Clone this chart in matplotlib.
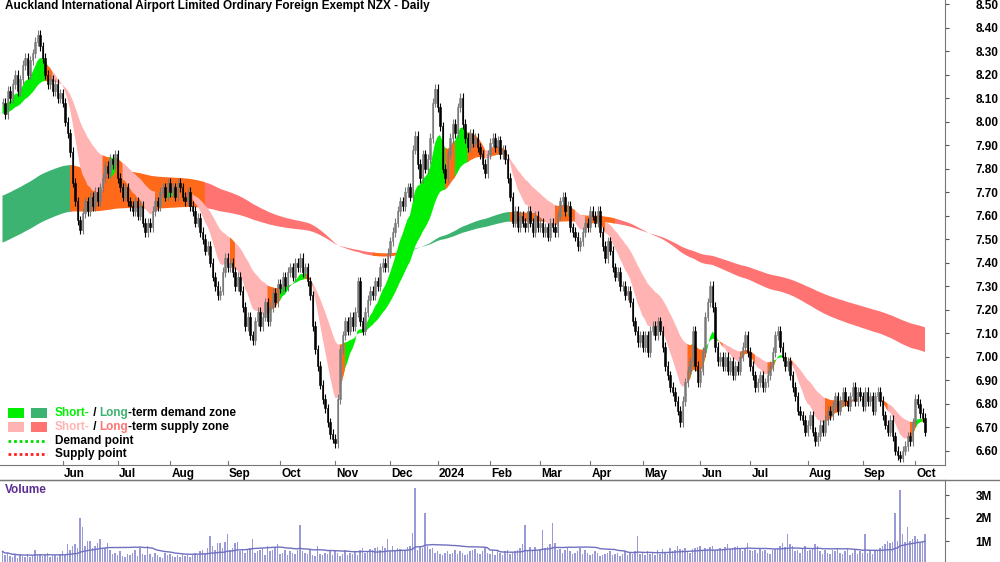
import numpy as np
import pandas as pd
import matplotlib
matplotlib.use("Agg")
import matplotlib.pyplot as plt
from matplotlib.patches import Rectangle

plt.rcParams['font.family'] = ['Liberation Sans', 'DejaVu Sans']

title = "Auckland International Airport Limited Ordinary Foreign Exempt NZX - Daily"

# daily closes (groups of 4 bars)
closes = [
    8.08, 8.03, 8.13, 8.10, 8.16, 8.20, 8.13, 8.18, 8.24, 8.27, 8.20, 8.26,
    8.29, 8.34, 8.37, 8.32, 8.27, 8.20, 8.16, 8.18, 8.13, 8.16, 8.10, 8.12,
    8.08, 8.00, 7.95, 7.87, 7.74, 7.66, 7.58, 7.54, 7.61, 7.66, 7.62, 7.68,
    7.64, 7.70, 7.66, 7.72, 7.76, 7.81, 7.78, 7.84, 7.82, 7.86, 7.76, 7.72,
    7.68, 7.72, 7.66, 7.64, 7.62, 7.66, 7.60, 7.64, 7.57, 7.53, 7.57, 7.55,
    7.62, 7.66, 7.64, 7.70, 7.72, 7.68, 7.74, 7.70, 7.72, 7.68, 7.74, 7.72,
    7.68, 7.66, 7.70, 7.64, 7.62, 7.57, 7.59, 7.53, 7.50, 7.45, 7.47, 7.40,
    7.34, 7.30, 7.26, 7.28, 7.36, 7.42, 7.38, 7.40, 7.36, 7.30, 7.34, 7.28,
    7.21, 7.13, 7.17, 7.09, 7.07, 7.15, 7.19, 7.13, 7.17, 7.23, 7.15, 7.21,
    7.27, 7.23, 7.31, 7.29, 7.34, 7.30, 7.36, 7.38, 7.34, 7.40, 7.38, 7.42,
    7.36, 7.38, 7.32, 7.26, 7.13, 7.03, 6.96, 6.88, 6.82, 6.78, 6.72, 6.67,
    6.65, 6.63, 6.82, 7.03, 7.09, 7.15, 7.11, 7.17, 7.13, 7.19, 7.32, 7.15,
    7.11, 7.19, 7.24, 7.28, 7.26, 7.32, 7.30, 7.38, 7.40, 7.38, 7.44, 7.49,
    7.53, 7.57, 7.62, 7.66, 7.64, 7.70, 7.72, 7.68, 7.88, 7.94, 7.82, 7.76,
    7.86, 7.80, 7.84, 7.93, 8.08, 8.14, 8.06, 7.98, 7.80, 7.76, 7.86, 7.93,
    7.99, 7.95, 8.06, 8.10, 7.99, 7.93, 7.89, 7.95, 7.91, 7.93, 7.89, 7.86,
    7.82, 7.78, 7.86, 7.91, 7.93, 7.89, 7.92, 7.86, 7.88, 7.84, 7.76, 7.68,
    7.57, 7.62, 7.55, 7.60, 7.57, 7.55, 7.62, 7.57, 7.53, 7.60, 7.55, 7.57,
    7.53, 7.55, 7.51, 7.57, 7.55, 7.53, 7.60, 7.66, 7.68, 7.62, 7.64, 7.55,
    7.53, 7.51, 7.47, 7.49, 7.53, 7.57, 7.55, 7.62, 7.60, 7.57, 7.62, 7.53,
    7.47, 7.42, 7.49, 7.45, 7.38, 7.34, 7.36, 7.30, 7.30, 7.26, 7.28, 7.23,
    7.15, 7.11, 7.06, 7.09, 7.04, 7.09, 7.02, 7.11, 7.13, 7.09, 7.15, 7.11,
    7.04, 6.96, 6.92, 6.87, 6.85, 6.81, 6.77, 6.72, 6.81, 6.89, 6.94, 6.98,
    7.11, 6.96, 6.89, 6.94, 7.02, 7.17, 7.23, 7.30, 7.21, 7.04, 6.98, 7.00,
    6.96, 7.00, 6.94, 6.98, 6.92, 6.96, 6.94, 7.00, 7.04, 7.09, 7.02, 6.96,
    6.92, 6.87, 6.89, 6.92, 6.87, 6.89, 6.92, 6.96, 7.02, 7.09, 7.11, 7.04,
    7.00, 6.96, 6.98, 6.92, 6.87, 6.83, 6.77, 6.75, 6.73, 6.68, 6.71, 6.75,
    6.68, 6.64, 6.66, 6.71, 6.68, 6.73, 6.77, 6.75, 6.79, 6.83, 6.77, 6.81,
    6.85, 6.81, 6.79, 6.83, 6.87, 6.81, 6.85, 6.83, 6.79, 6.85, 6.81, 6.83,
    6.77, 6.83, 6.85, 6.81, 6.75, 6.71, 6.68, 6.73, 6.66, 6.60, 6.58, 6.57,
    6.60, 6.62, 6.66, 6.64, 6.72, 6.82, 6.80, 6.76, 6.74, 6.68,
]

# daily volume in millions
volume = [
    .55, .40, .50, .35, .30, .45, .25, .40, .35, .30,
    .45, .30, .35, .60, .40, .45, .35, .40, .50, .30,
    .35, .40, .30, .45, .55, .40, .85, .60, .80, .85,
    .70, 2.0, 1.6, .80, 1.0, 1.0, .70, .80, .90, 1.1,
    .65, .70, .90, .60, .45, .50, .40, .55, .35, .30,
    .45, .40, .50, .60, .35, .70, .45, .40, .80, .45,
    .30, .50, .40, .30, .25, .50, .40, .45, .35, .30,
    .40, .30, .45, .35, .40, .30, .45, .50, .40, .55,
    .60, .50, .70, 1.2, .80, .60, .90, .90, .70, .95,
    1.3, .60, .70, .90, .95, .55, .60, .50, .60, .70,
    1.1, .50, .55, .60, .70, .40, .80, .55, .60, .75,
    .85, .45, .50, .60, .40, .55, .50, .45, .60, 1.7,
    .55, .50, .45, .60, .40, .35, .80, .45, .40, .50,
    .45, .60, .40, .55, .50, .35, .45, .60, .40, .50,
    .45, .55, .40, .60, .70, .50, .55, .65, .60, .70,
    .75, .60, .80, .70, 1.1, .55, .80, .60, .70, .65,
    .55, .60, .75, .80, 1.35, 3.3, .60, .75, .70, 2.2,
    .80, .65, .70, .50, .55, .45, .40, .50, .55, .45,
    .50, .60, .45, .55, .50, .40, .45, .55, .60, .65,
    .50, .45, .55, .75, .50, .45, .60, .40, .55, .50,
    .40, .55, .60, .45, .50, .55, .60, .70, .85, 1.7,
    .55, .75, .60, .75, .55, .65, 1.5, .70, .75, .85,
    1.8, .90, .60, .65, .50, .60, .70, .55, .45, .50,
    .55, .70, .45, .60, .50, .40, .45, .55, .50, .35,
    .40, .45, .50, .55, .40, .45, .50, .35, .45, .55,
    .40, .50, .45, .55, 1.2, .45, .50, .40, .55, .45,
    .50, .40, .60, .45, .65, .50, .45, .70, .55, .60,
    .80, .65, .60, .70, .55, .50, .65, .70, .75, .80,
    .60, .70, .65, .75, .80, .60, .65, .70, .60, .75,
    .85, .65, .70, .75, .80, .65, .55, .70, .90, .60,
    .55, .60, .50, .65, .55, .60, .50, .45, .60, .65,
    .70, .80, .90, .75, 1.3, .85, .80, .55, .60, .50,
    .65, .80, .55, .60, .70, .85, .80, .55, .45, .60,
    .50, .45, .60, .55, .70, .50, .45, .55, .65, .40,
    .50, .60, .45, .55, .50, 1.3, .50, .60, .45, .55,
    .60, .70, .80, .85, 1.0, .90, .95, 2.2, 1.0, 3.2,
    1.3, .95, 1.6, 1.0, 1.1, 1.2, 1.1, .90, 1.0, 1.3,
]

first_day = "2023-04-28"
holidays = ["2023-12-25", "2023-12-26", "2024-01-01", "2024-01-02", "2024-02-06",
            "2024-03-29", "2024-04-01"]
# start values of the averages (the chart has history before the first bar)
short_seed = [8.08, 8.03]
long_seed = [7.68, 7.48]

price_ticks = [6.6 + 0.1 * k for k in range(20)]
vol_ticks = [1, 2, 3]
vol_tick_labels = ["1M", "2M", "3M"]

days = pd.bdate_range(first_day, periods=420)
days = days[~days.isin(pd.to_datetime(holidays))][:len(closes)]
n = len(closes)
x = np.arange(n)
c = np.array(closes)
o = np.r_[c[0], c[:-1]]
hi = np.maximum(o, c) + 0.02
lo = np.minimum(o, c) - 0.02


def ema(vals, span, seed):
    a = 2.0 / (span + 1)
    out = np.empty(len(vals))
    prev = seed
    for i, v in enumerate(vals):
        prev = prev + a * (v - prev)
        out[i] = prev
    return out


s_fast = ema(c, 10, short_seed[0])
s_slow = ema(c, 30, short_seed[1])
l_fast = ema(c, 170, long_seed[0])
l_slow = ema(c, 250, long_seed[1])

W, H = 1000, 562
fig = plt.figure(figsize=(10, 5.62), dpi=100)
top_h = 465
ax = fig.add_axes([0, 1 - top_h / H, 0.945, top_h / H])
axv = fig.add_axes([0, 0, 0.945, 82 / H])

ORANGE = "#ff6a1a"


def draw_band(a, b, up_col, dn_col, thr):
    mid = (a + b) / 2
    slope = np.r_[np.zeros(4), (mid[4:] - mid[:-4]) / 4]
    slope[:4] = slope[4]
    state = np.where(slope > thr, 1, np.where(slope < -thr, -1, 0))
    cols = {1: up_col, -1: dn_col, 0: ORANGE}
    for st in (1, -1, 0):
        m = state == st
        m2 = m | np.r_[m[1:], False] | np.r_[False, m[:-1]]
        ax.fill_between(x, a, b, where=m2, color=cols[st], lw=0, interpolate=False)


draw_band(l_fast, l_slow, "#3cb371", "#ff7373", 0.0016)
draw_band(s_fast, s_slow, "#00ee00", "#ffb3b3", 0.0045)

up = c >= o
ax.vlines(x[up], lo[up], hi[up], color="#7a7a7a", lw=0.8)
ax.vlines(x[~up], lo[~up], hi[~up], color="black", lw=0.8)
bw = 0.6
for i in range(n):
    bottom = min(o[i], c[i])
    h = max(abs(c[i] - o[i]), 0.004)
    if up[i]:
        ax.add_patch(Rectangle((i - bw / 2, bottom), bw, h, fc="#b4b4b4", ec="#6e6e6e", lw=0.4))
    else:
        ax.add_patch(Rectangle((i - bw / 2, bottom), bw, h, fc="black", ec="black", lw=0.4))

xmax = 0.945 * W / 2.5
ax.set_xlim(-1, xmax - 1)
ax.set_ylim(8.5 - (top_h - 4) / 235, 8.5 + 4 / 235)
ax.yaxis.tick_right()
ax.set_yticks(price_ticks)
ax.set_yticklabels([f"{t:.2f}" for t in price_ticks])
ax.tick_params(axis="y", length=3, pad=19, labelsize=8.5, color="#555555")
for lab in ax.get_yticklabels():
    lab.set_fontweight("bold")
ax.set_xticks([])
for s in ("top", "left"):
    ax.spines[s].set_visible(False)
ax.spines["bottom"].set_color("#777777")
ax.spines["right"].set_color("#777777")

# month labels (the last one sits just past the data)
months = pd.Series(days.month)
starts = [i for i in range(10, n) if months[i] != months[i - 1]]
for i in starts:
    d = days[i]
    lab = "2024" if d.month == 1 else d.strftime("%b")
    ax.plot([i, i], [ax.get_ylim()[0], ax.get_ylim()[0] + 0.015], color="#777777", lw=0.8, clip_on=False)
    ax.annotate(lab, (i, 0), xycoords=("data", "axes fraction"), xytext=(1, -2),
                textcoords="offset points", ha="left", va="top", fontsize=8.5,
                fontweight="bold", annotation_clip=False)

fig.text(5 / W, 1 - 6 / H, title, ha="left", va="center", fontsize=8.5, fontweight="bold")

# legend
def row_text(y, parts):
    r = fig.canvas.get_renderer()
    xp = 55
    for s, col in parts:
        t = fig.text(xp / W, 1 - y / H, s, color=col, ha="left", va="center",
                     fontsize=8.5, fontweight="bold")
        xp += t.get_window_extent(r).width


for yy, c1, c2 in [(413, "#00ee00", "#3cb371"), (427, "#ffb3b3", "#ff7373")]:
    fig.patches.append(Rectangle((8 / W, 1 - (yy + 5) / H), 16 / W, 10 / H, fc=c1, ec="none",
                                 transform=fig.transFigure))
    fig.patches.append(Rectangle((31 / W, 1 - (yy + 5) / H), 16 / W, 10 / H, fc=c2, ec="none",
                                 transform=fig.transFigure))
row_text(413, [("Short-", "#00ee00"), (" / ", "black"), ("Long", "#3cb371"),
               ("-term demand zone", "black")])
row_text(427, [("Short-", "#ffb3b3"), (" / ", "black"), ("Long", "#ff7373"),
               ("-term supply zone", "black")])
for yy, col, lab in [(441, "#00dd00", "Demand point"), (454, "#ff2020", "Supply point")]:
    fig.add_artist(plt.Line2D([8 / W, 47 / W], [1 - yy / H] * 2, color=col, lw=2,
                              ls=(0, (1, 1)), transform=fig.transFigure))
    fig.text(55 / W, 1 - yy / H, lab, ha="left", va="center", fontsize=8.5, fontweight="bold")

# volume
vol = np.array(volume)
vma = pd.Series(vol).rolling(30, min_periods=1).mean().values
axv.bar(x, vol, width=0.45, color="#9a9ad8", lw=0)
axv.plot(x, vma, color="#7070c0", lw=1)
axv.set_xlim(ax.get_xlim())
axv.set_ylim(2 / 23, 84 / 23)
axv.yaxis.tick_right()
axv.set_yticks(vol_ticks)
axv.set_yticklabels(vol_tick_labels)
axv.tick_params(axis="y", length=3, pad=19, labelsize=8.5, color="#555555")
for lab in axv.get_yticklabels():
    lab.set_fontweight("bold")
axv.set_xticks([])
for s in ("left", "bottom"):
    axv.spines[s].set_visible(False)
axv.spines["top"].set_color("#777777")
axv.spines["right"].set_color("#777777")
fig.text(5 / W, 1 - 490 / H, "Volume", color="#5a2d91", ha="left", va="center",
         fontsize=8.5, fontweight="bold")
fig.add_artist(plt.Line2D([0, 1], [1 - 480 / H] * 2, color="#777777", lw=1,
                          transform=fig.transFigure))

fig.savefig("out.png", dpi=100)
